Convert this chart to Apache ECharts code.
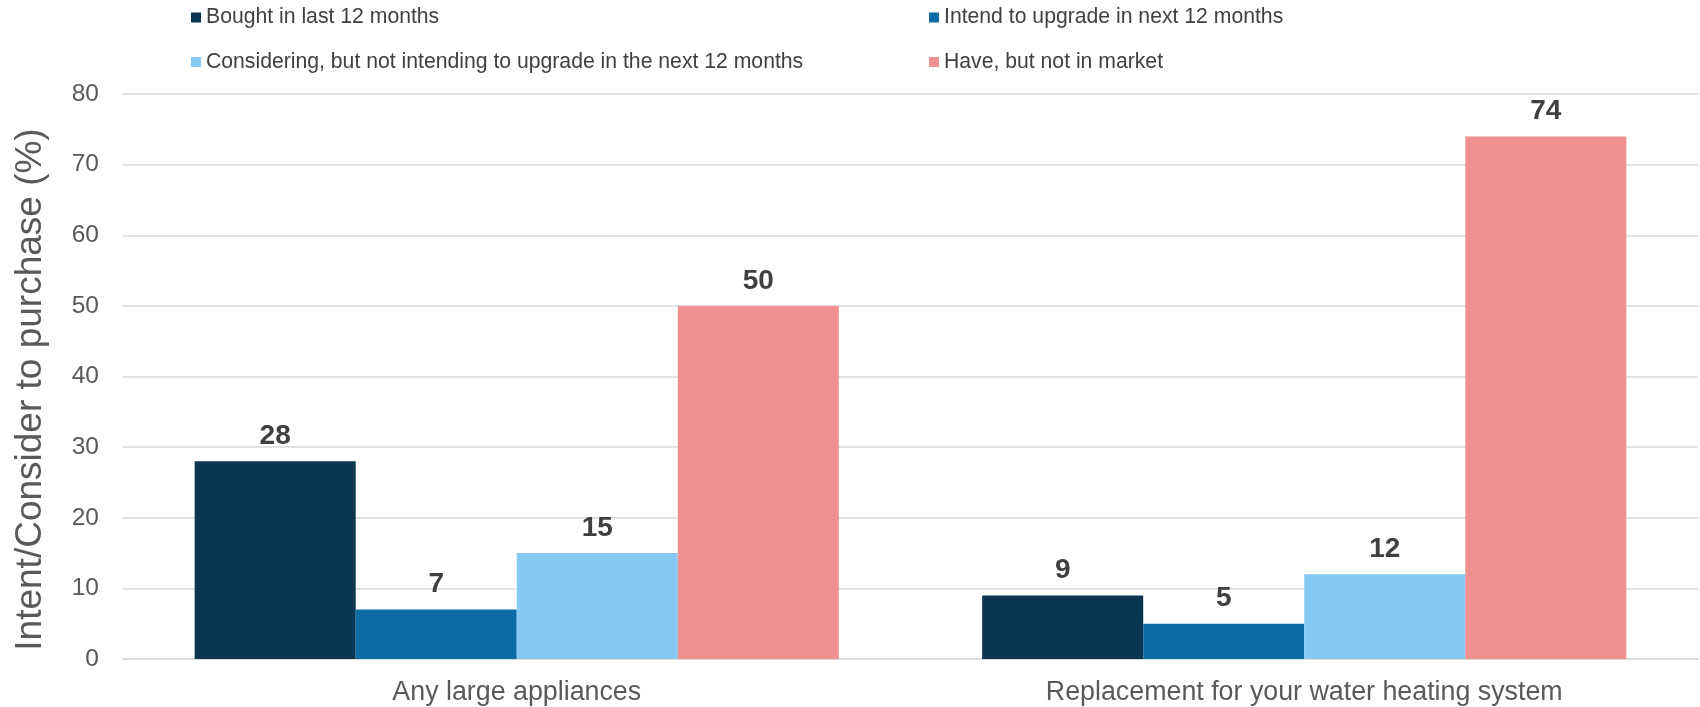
<!DOCTYPE html>
<html>
<head>
<meta charset="utf-8">
<script src="https://cdn.jsdelivr.net/npm/echarts@6/dist/echarts.min.js"></script>
<style>
html,body{margin:0;padding:0;background:#fff;}
#chart{width:1700px;height:707px;}
</style>
</head>
<body>
<div id="chart"></div>
<script>
const categories = ['Any large appliances', 'Replacement for your water heating system'];
const seriesNames = [
  'Bought in last 12 months',
  'Intend to upgrade in next 12 months',
  'Considering, but not intending to upgrade in the next 12 months',
  'Have, but not in market'
];
const boughtValues = [28, 9];
const intendValues = [7, 5];
const consideringValues = [15, 12];
const haveValues = [50, 74];
const yTicks = [0, 10, 20, 30, 40, 50, 60, 70, 80];
const yAxisTitle = 'Intent/Consider to purchase (%)';

const colors = ['#0A3652', '#0E6CA4', '#86C9F3', '#F09090'];
const FONT = '"Liberation Sans", Arial, sans-serif';
const valuesList = [boughtValues, intendValues, consideringValues, haveValues];

const chart = echarts.init(document.getElementById('chart'), null, {renderer: 'canvas'});

const series = seriesNames.map((name, i) => ({
  name: name,
  type: 'bar',
  data: valuesList[i],
  itemStyle: {color: colors[i]},
  barGap: '0%',
  barCategoryGap: '18.2%',
  label: {
    show: true,
    position: 'top',
    distance: 11,
    fontFamily: FONT,
    fontSize: 28,
    fontWeight: 'bold',
    color: '#404040'
  }
}));

const legendText = {fontFamily: FONT, fontSize: 21.2, color: '#404040', lineHeight: 21};

chart.setOption({
  animation: false,
  backgroundColor: '#ffffff',
  color: colors,
  legend: [
    {
      data: [seriesNames[0], seriesNames[2]],
      orient: 'vertical',
      left: 186, top: 2,
      itemWidth: 10, itemHeight: 10, itemGap: 23.5,
      icon: 'rect',
      textStyle: legendText
    },
    {
      data: [seriesNames[1], seriesNames[3]],
      orient: 'vertical',
      left: 924, top: 2,
      itemWidth: 10, itemHeight: 10, itemGap: 23.5,
      icon: 'rect',
      textStyle: legendText
    }
  ],
  grid: {left: 123, right: 2, top: 94, bottom: 48, containLabel: false},
  xAxis: {
    type: 'category',
    data: categories,
    axisLine: {show: true, lineStyle: {color: '#D9D9D9', width: 1.5}},
    axisTick: {show: false},
    axisLabel: {fontFamily: FONT, fontSize: 26.8, color: '#595959', margin: 20}
  },
  yAxis: {
    type: 'value',
    min: yTicks[0],
    max: yTicks[yTicks.length - 1],
    interval: 10,
    name: yAxisTitle,
    nameLocation: 'middle',
    nameGap: 74,
    nameTextStyle: {fontFamily: FONT, fontSize: 37, color: '#595959', padding: [0, 26, 0, 0]},
    axisLine: {show: false},
    axisTick: {show: false},
    splitLine: {lineStyle: {color: '#D9D9D9', width: 1.5}},
    axisLabel: {fontFamily: FONT, fontSize: 24.5, color: '#595959', margin: 24}
  },
  series: series
});
</script>
</body>
</html>
